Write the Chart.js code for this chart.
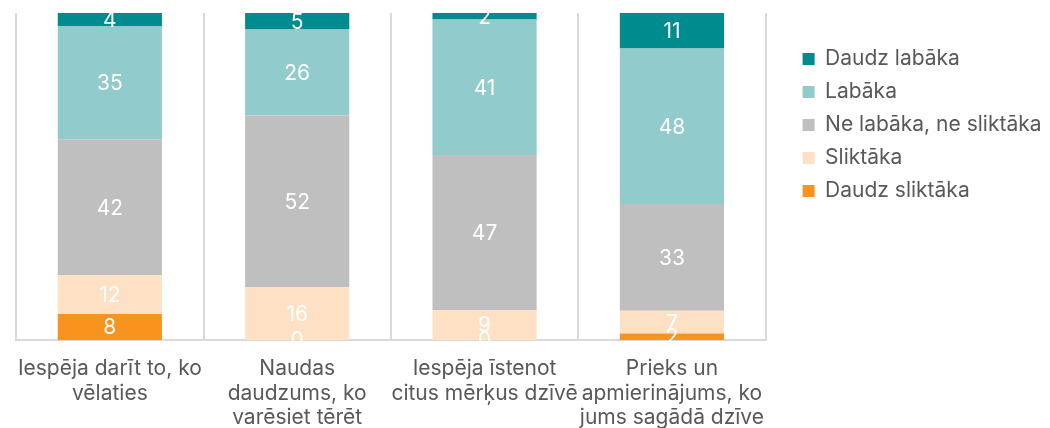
<!DOCTYPE html>
<html>
<head>
<meta charset="utf-8">
<script src="https://cdn.jsdelivr.net/npm/chart.js@4/dist/chart.umd.min.js"></script>
<style>
  html, body { margin: 0; padding: 0; background: #fff; }
  #wrap { width: 1050px; height: 428px; position: relative; }
</style>
</head>
<body>
<div id="wrap"><canvas id="chart"></canvas></div>
<script>
// categories (multi-line labels as shown under the bars)
const categories = [
  ['Iespēja darīt to, ko', 'vēlaties'],
  ['Naudas', 'daudzums, ko', 'varēsiet tērēt'],
  ['Iespēja īstenot', 'citus mērķus dzīvē'],
  ['Prieks un', 'apmierinājums, ko', 'jums sagādā dzīve']
];

// series, bottom to top (percent answers, as labelled)
const daudzSliktaka = [8, 0, 0, 2];
const sliktaka      = [12, 16, 9, 7];
const neLabaka      = [42, 52, 47, 33];
const labaka        = [35, 26, 41, 48];
const daudzLabaka   = [4, 5, 2, 11];

const seriesNames  = ['Daudz sliktāka', 'Sliktāka', 'Ne labāka, ne sliktāka', 'Labāka', 'Daudz labāka'];
const seriesValues = [daudzSliktaka, sliktaka, neLabaka, labaka, daudzLabaka];
const seriesColors = ['#F7931E', '#FEE1C4', '#BFBFBF', '#91CBCB', '#008C8F'];

// 100% stacked: each column is scaled to its own total
const totals = categories.map((c, i) => seriesValues.reduce((s, arr) => s + arr[i], 0));

const datasets = seriesValues.map((vals, k) => ({
  label: seriesNames[k],
  data: vals.map((v, i) => v / totals[i] * 100),
  raw: vals,
  backgroundColor: seriesColors[k],
  borderWidth: 0,
  categoryPercentage: 1,
  barPercentage: 0.556
}));

// white value labels in the middle of each segment
const valueLabels = {
  id: 'valueLabels',
  afterDatasetsDraw(chart) {
    const ctx = chart.ctx;
    ctx.save();
    ctx.font = '21px Inter';
    ctx.fillStyle = '#ffffff';
    ctx.textAlign = 'center';
    ctx.textBaseline = 'middle';
    chart.data.datasets.forEach((ds, k) => {
      chart.getDatasetMeta(k).data.forEach((bar, i) => {
        ctx.fillText(String(ds.raw[i]), bar.x, (bar.y + bar.base) / 2 + 1);
      });
    });
    ctx.restore();
  }
};

Chart.defaults.font.family = 'Inter';

new Chart(document.getElementById('chart'), {
  type: 'bar',
  data: { labels: categories, datasets: datasets },
  options: {
    responsive: true,
    maintainAspectRatio: false,
    animation: false,
    layout: { padding: { left: 7, top: 13, right: -1.5, bottom: 0 } },
    scales: {
      x: {
        stacked: true,
        grid: { offset: true, color: '#D9D9D9', lineWidth: 2, drawTicks: false },
        border: { color: '#D9D9D9', width: 2 },
        ticks: { color: '#595959', font: { size: 21, lineHeight: 1.16 }, padding: 17, maxRotation: 0, autoSkip: false },
        afterFit(scale) { scale.height = 88; }
      },
      y: {
        stacked: true,
        position: 'right',
        min: 0,
        max: 100,
        grid: { display: false },
        border: { display: false },
        ticks: { display: false },
        afterFit(scale) { scale.width = 25; }
      }
    },
    plugins: {
      legend: {
        position: 'right',
        align: 'start',
        reverse: true,
        title: { display: true, text: ' ', font: { size: 12 }, padding: { top: 9, bottom: 0 } },
        labels: { color: '#595959', font: { size: 21 }, boxWidth: 12, boxHeight: 12, padding: 12 }
      },
      tooltip: { enabled: false }
    }
  },
  plugins: [valueLabels]
});
</script>
</body>
</html>
